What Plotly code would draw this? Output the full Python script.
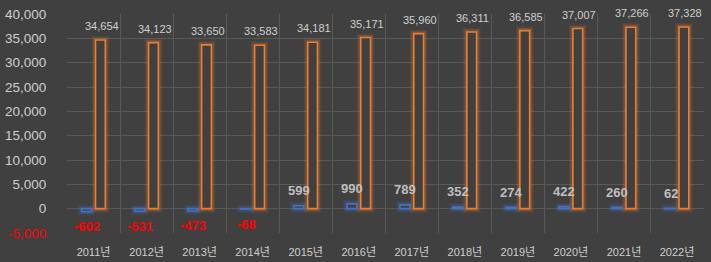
import plotly.graph_objects as go

years = ["2011년", "2012년", "2013년", "2014년", "2015년", "2016년",
         "2017년", "2018년", "2019년", "2020년", "2021년", "2022년"]
totals = [34654, 34123, 33650, 33583, 34181, 35171, 35960, 36311, 36585, 37007, 37266, 37328]
changes = [-602, -531, -473, -68, 599, 990, 789, 352, 274, 422, 260, 62]
y_ticks = [-5000, 0, 5000, 10000, 15000, 20000, 25000, 30000, 35000, 40000]

BG = "#404040"
ORANGE = "#ED7D31"
BLUE = "#4472C4"
TXT = "#CFCFCF"
FONT = "Liberation Sans, Arial, Noto Sans CJK KR, sans-serif"

fig = go.Figure()

def add_series(vals, color, rgb, group):
    for w, a in [(8, 0.10), (5, 0.22)]:
        fig.add_trace(go.Bar(
            x=years, y=vals, offsetgroup=group,
            marker=dict(color="rgba(0,0,0,0)", line=dict(color=f"rgba({rgb},{a})", width=w)),
            hoverinfo="skip", showlegend=False))
    fig.add_trace(go.Bar(
        x=years, y=vals, offsetgroup=group,
        marker=dict(color=BG, line=dict(color=color, width=1.6)),
        showlegend=False))

add_series(changes, BLUE, "68,114,196", "a")
add_series(totals, ORANGE, "237,125,49", "b")

annotations = []
for yr, v in zip(years, totals):
    annotations.append(dict(x=yr, y=v, xref="x", yref="y", text=f"{v:,}", showarrow=False,
                            xshift=8, yshift=14, yanchor="middle",
                            font=dict(family=FONT, size=11, color=TXT)))
for yr, v in zip(years, changes):
    neg = v < 0
    annotations.append(dict(x=yr, y=v, xref="x", yref="y", text=f"<b>{v:,}</b>", showarrow=False,
                            xshift=-6.5, yshift=-15 if neg else 15, yanchor="middle",
                            font=dict(family=FONT, size=13, color="#FF0000" if neg else "#BFBFBF")))

tick_text = [f'<span style="color:#FF0000">{t:,}</span>' if t < 0 else f"{t:,}" for t in y_ticks]

fig.update_layout(
    width=711, height=262,
    margin=dict(l=67, r=7, t=14, b=29),
    paper_bgcolor=BG, plot_bgcolor=BG,
    barmode="group", bargap=0.48, bargroupgap=0.29,
    annotations=annotations,
    font=dict(family=FONT, color=TXT),
    xaxis=dict(type="category", tickson="boundaries", showgrid=True, gridcolor="#595959",
               gridwidth=1, ticks="", ticklabelstandoff=11, automargin=False,
               tickfont=dict(family=FONT, size=11, color=TXT), showline=False, zeroline=False),
    yaxis=dict(range=[-5000, 40000], tickvals=y_ticks, ticktext=tick_text,
               showgrid=True, gridcolor="#595959", gridwidth=1, zeroline=False,
               ticks="outside", ticklen=17, tickcolor="rgba(0,0,0,0)", automargin=False,
               tickfont=dict(family=FONT, size=13.5, color=TXT), showline=False),
)

fig.write_html("out.html")
